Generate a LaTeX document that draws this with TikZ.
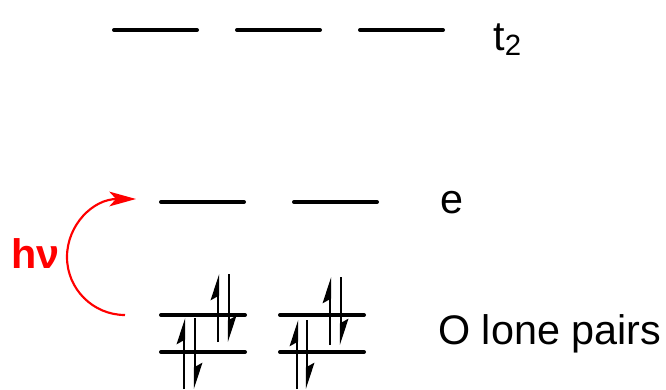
\documentclass[tikz,border=0pt]{standalone}
\usepackage{fontspec}
\setmainfont{Liberation Sans}
\usetikzlibrary{arrows.meta}
\begin{document}
\begin{tikzpicture}[x=0.75pt,y=-0.75pt,
  level/.style={line width=3pt,line cap=round},
  spin/.style={line width=1.7pt,-{Stealth[harpoon,length=17pt,width=11pt,inset=3pt]}},
  lbl/.style={font=\fontsize{31}{36}\selectfont,inner sep=0pt},
  hv/.style={red,font=\fontsize{31}{36}\selectfont\bfseries,inner sep=0pt},
  excite/.style={red,line width=1.6pt,-{Stealth[length=20pt,width=11pt,inset=5pt]}}]
\useasboundingbox (0,0) rectangle (666,389);
% t2 levels
\draw[level] (114,30) -- (197,30);
\draw[level] (237,30) -- (320,30);
\draw[level] (360,30) -- (443,30);
% e levels
\draw[level] (161,202) -- (244,202);
\draw[level] (294,202) -- (377,202);
% O lone pair levels
\draw[level] (161,315) -- (245,315);
\draw[level] (161,352) -- (245,352);
\draw[level] (280,315) -- (364,315);
\draw[level] (280,352) -- (364,352);
% electrons, group 1
\draw[spin] (218,342) -- (218,274);
\draw[spin] (229,274) -- (229,342);
\draw[spin] (184,389) -- (184,318);
\draw[spin] (195,318) -- (195,389);
% electrons, group 2
\draw[spin] (330,345) -- (330,277);
\draw[spin] (341,277) -- (341,345);
\draw[spin] (297,389) -- (297,320);
\draw[spin] (307,320) -- (307,389);
% labels
\node[lbl,anchor=base west] (t2) at (493,50) {t\raisebox{-4pt}{\fontsize{22}{22}\selectfont 2}};
\node[lbl,anchor=base west] (e) at (440,213) {e};
\node[lbl,anchor=base west] (olp) at (438,344) {O lone pairs};
\node[hv,anchor=base west] (hnu) at (11,268) {hν};
% excitation arrow
\coordinate (s) at (125,315);
\coordinate (f) at (136,199);
\draw[excite] (s) .. controls (93,315) and (67,289) .. (67,257)
  .. controls (67,225) and (93,199) .. (f);
\end{tikzpicture}
\end{document}
